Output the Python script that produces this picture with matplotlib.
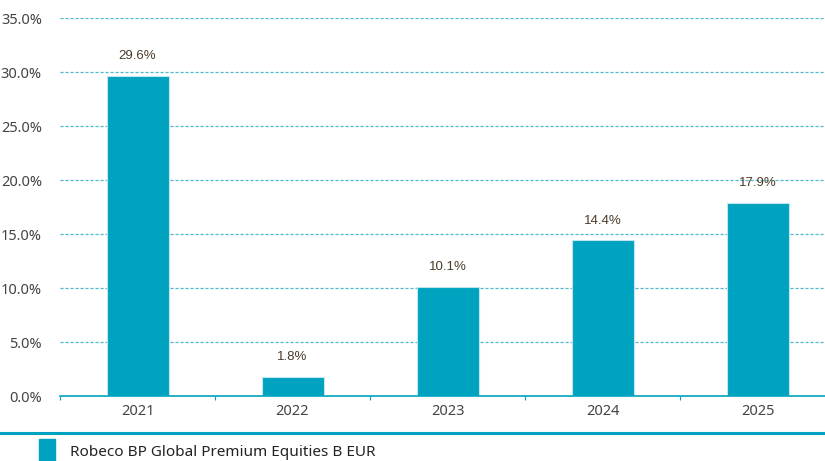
import matplotlib.pyplot as plt
from matplotlib.patches import Rectangle
from matplotlib.lines import Line2D

years = ['2021', '2022', '2023', '2024', '2025']
returns = [29.6, 1.8, 10.1, 14.4, 17.9]
fund_name = 'Robeco BP Global Premium Equities B EUR'

teal = '#00a3bf'
grid_teal = '#4fb9cc'

fig = plt.figure(figsize=(8.25, 4.61), dpi=100)
ax = fig.add_axes([60 / 825, 65 / 461, 775 / 825, 378 / 461])

x = range(len(years))
ax.bar(x, returns, width=0.4, color=teal, edgecolor='#bfe6ee', linewidth=0.8, zorder=3)

# value labels above bars
for xi, v in zip(x, returns):
    ax.annotate(f'{v:.1f}%', (xi, v), xytext=(0, 10), textcoords='offset points',
                ha='center', va='bottom', fontsize=9.5, color='#4a3c28',
                family='Liberation Sans')

ax.set_xlim(-0.5, 4.5)
ax.set_ylim(0, 35)
ax.set_yticks([0, 5, 10, 15, 20, 25, 30, 35])
ax.set_yticklabels([f'{t:.1f}%' for t in ax.get_yticks()], fontsize=10.5, color='#444444',
                   family='Noto Sans')
ax.set_xticks(list(x))
ax.set_xticklabels(years, fontsize=10.5, color='#444444', family='Noto Sans')
ax.tick_params(axis='y', length=0, pad=13)
ax.tick_params(axis='x', length=0, pad=6)
# boundary tick marks
ax.set_xticks([i + 0.5 for i in range(-1, 5)], minor=True)
ax.tick_params(axis='x', which='minor', length=3, color=teal, width=0.8)

for t in range(5, 40, 5):
    ax.axhline(t, color=grid_teal, linestyle=(0, (2.5, 1.5)), linewidth=0.9, zorder=1)

for s in ['top', 'right', 'left']:
    ax.spines[s].set_visible(False)
ax.spines['bottom'].set_color(teal)
ax.spines['bottom'].set_linewidth(1.2)
ax.spines['bottom'].set_zorder(4)

# legend area
fig.add_artist(Line2D([0, 1], [1 - 433 / 461] * 2, color=teal, linewidth=2.2,
                      transform=fig.transFigure))
fig.add_artist(Rectangle((39 / 825, 0), 16 / 825, 22 / 461, color=teal,
                         transform=fig.transFigure))
fig.text(70 / 825, 1 - 452 / 461, fund_name, fontsize=11, color='#222222',
         va='center', ha='left', family='Noto Sans')

fig.savefig('out.png', dpi=100)
